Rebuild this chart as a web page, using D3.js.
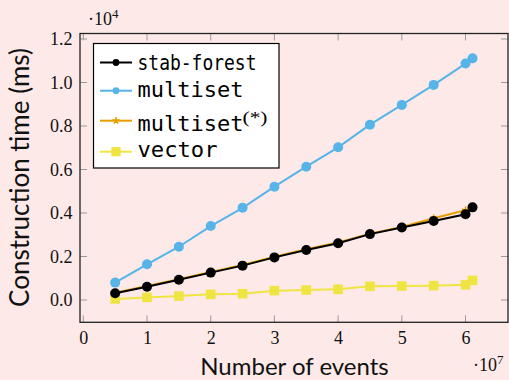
<!DOCTYPE html>
<html><head><meta charset="utf-8">
<script src="https://cdn.jsdelivr.net/npm/d3@7"></script>
<style>html,body{margin:0;padding:0;background:#fdeae8;} svg{display:block}</style>
</head><body><svg id="c" width="509" height="380"></svg>
<script>
// ---- data (x in units of 1e7 events, y in units of 1e4 ms) ----
const xValues      = [0.5, 1, 1.5, 2, 2.5, 3, 3.5, 4, 4.5, 5, 5.5, 6, 6.11];
const stabForest   = [0.031, 0.061, 0.093, 0.126, 0.158, 0.196, 0.230, 0.261, 0.303, 0.333, 0.363, 0.394, 0.426];
const multiset     = [0.080, 0.164, 0.245, 0.340, 0.424, 0.521, 0.613, 0.702, 0.806, 0.897, 0.989, 1.087, 1.111];
const multisetStar = [0.033, 0.064, 0.096, 0.129, 0.161, 0.199, 0.233, 0.265, 0.305, 0.336, 0.376, 0.413, 0.425];
const vector       = [0.005, 0.012, 0.018, 0.026, 0.029, 0.043, 0.046, 0.049, 0.063, 0.064, 0.066, 0.070, 0.090];
const xTicks = [0, 1, 2, 3, 4, 5, 6];
const yTicks = [0, 0.2, 0.4, 0.6, 0.8, 1.0, 1.2];
const legendNames = ["stab-forest", "multiset", "multiset", "vector"];
const xLabel = "Number of events";
const yLabel = "Construction time (ms)";

const svg = d3.select("#c");
const L = 80, R = 508, T = 33.5, B = 322.3;
const x = d3.scaleLinear().domain([-0.052, 6.667]).range([L, R]);
const y = d3.scaleLinear().domain([-0.1025, 1.2253]).range([B, T]);

svg.append("rect").attr("width", 509).attr("height", 380).attr("fill", "#fdeae8");

// ticks (inside, all four sides)
const tickLen = 7, tickCol = "#9a9a9a";
const g = svg.append("g");
xTicks.forEach(t => {
  g.append("line").attr("x1", x(t)).attr("x2", x(t)).attr("y1", B).attr("y2", B - tickLen).attr("stroke", tickCol).attr("stroke-width", 1);
  g.append("line").attr("x1", x(t)).attr("x2", x(t)).attr("y1", T).attr("y2", T + tickLen).attr("stroke", tickCol).attr("stroke-width", 1);
});
yTicks.forEach(t => {
  g.append("line").attr("x1", L).attr("x2", L + tickLen).attr("y1", y(t)).attr("y2", y(t)).attr("stroke", tickCol).attr("stroke-width", 1);
  g.append("line").attr("x1", R).attr("x2", R - tickLen).attr("y1", y(t)).attr("y2", y(t)).attr("stroke", tickCol).attr("stroke-width", 1);
});

// tick labels via d3 axes
const numFont = "'Liberation Serif', serif";
const numSize = 18;
const xAxis = svg.append("g").attr("transform", `translate(0,${B})`)
  .call(d3.axisBottom(x).tickValues(xTicks).tickFormat(d3.format("d")).tickSize(0).tickPadding(0));
xAxis.select(".domain").remove();
xAxis.selectAll("text").attr("y", 22).attr("dy", 0).attr("font-family", numFont).attr("font-size", numSize).attr("fill", "#111");
const yAxis = svg.append("g").attr("transform", `translate(${L},0)`)
  .call(d3.axisLeft(y).tickValues(yTicks).tickFormat(d3.format(".1f")).tickSize(0).tickPadding(0));
yAxis.select(".domain").remove();
yAxis.selectAll("text").attr("x", -7.5).attr("dy", "0.33em").attr("font-family", numFont).attr("font-size", numSize).attr("fill", "#111");

// scale multipliers
const m1 = svg.append("text").attr("x", 88).attr("y", 25).attr("font-family", numFont).attr("font-size", numSize).attr("fill", "#111");
m1.append("tspan").text("·10");
m1.append("tspan").attr("dy", -7).attr("font-size", 13).text("4");
const m2 = svg.append("text").attr("x", 473).attr("y", 371).attr("font-family", numFont).attr("font-size", numSize).attr("fill", "#111");
m2.append("tspan").text("·10");
m2.append("tspan").attr("dy", -7).attr("font-size", 13).text("7");

// axis titles
const labFont = "Lato, 'Open Sans', sans-serif";
svg.append("text").attr("x", 294.5).attr("y", 375).attr("text-anchor", "middle")
  .attr("font-family", labFont).attr("font-size", 24).attr("fill", "#111").text(xLabel);
svg.append("text").attr("transform", `translate(29,177.5) rotate(-90)`).attr("text-anchor", "middle")
  .attr("font-family", labFont).attr("font-size", 26).attr("fill", "#111").text(yLabel);

// series
const colBlack = "#000000", colBlue = "#56B4E9", colOrange = "#E69F00", colYellow = "#F0E442";
const line = d3.line().x(d => x(d[0])).y(d => y(d[1]));
function starPath(r) {
  let p = "";
  for (let i = 0; i < 5; i++) {
    const a = -Math.PI / 2 + i * 2 * Math.PI / 5;
    p += `M0,0L${(r * Math.cos(a)).toFixed(2)},${(r * Math.sin(a)).toFixed(2)}`;
  }
  return p;
}
function drawMarker(sel, type, col, size) {
  if (type === "circle") sel.append("circle").attr("r", size).attr("fill", col);
  else if (type === "square") sel.append("rect").attr("x", -size).attr("y", -size).attr("width", 2 * size).attr("height", 2 * size).attr("fill", col);
  else sel.append("path").attr("d", starPath(size)).attr("stroke", col).attr("stroke-width", 1.6).attr("fill", "none");
}
const series = [
  { vals: vector, col: colYellow, marker: "square", size: 4.8 },
  { vals: multiset, col: colBlue, marker: "circle", size: 5 },
  { vals: multisetStar, col: colOrange, marker: "star", size: 3.8 },
  { vals: stabForest, col: colBlack, marker: "circle", size: 5 },
];
const plot = svg.append("g");
series.forEach(s => {
  const pts = xValues.map((xv, i) => [xv, s.vals[i]]);
  plot.append("path").attr("d", line(pts)).attr("fill", "none").attr("stroke", s.col).attr("stroke-width", 2);
  pts.forEach(p => {
    const mg = plot.append("g").attr("transform", `translate(${x(p[0])},${y(p[1])})`);
    drawMarker(mg, s.marker, s.col, s.size);
  });
});

// frame
svg.append("rect").attr("x", L).attr("y", T).attr("width", R - L).attr("height", B - T)
  .attr("fill", "none").attr("stroke", "#222").attr("stroke-width", 1.3);

// legend
const leg = svg.append("g");
leg.append("rect").attr("x", 93.5).attr("y", 43.5).attr("width", 185.5).attr("height", 124.5)
  .attr("fill", "#fff").attr("stroke", "#000").attr("stroke-width", 1.2);
const legRows = [62.5, 90.7, 120.7, 151.7];
const legBase = [69.5, 97.3, 130.7, 157];
const legEntries = [
  { name: legendNames[0], col: colBlack, marker: "circle", size: 3.4, w: 119, sup: false },
  { name: legendNames[1], col: colBlue, marker: "circle", size: 3.4, w: 106, sup: false },
  { name: legendNames[2], col: colOrange, marker: "star", size: 3.6, w: 106, sup: true },
  { name: legendNames[3], col: colYellow, marker: "square", size: 4.6, w: 80, sup: false },
];
const monoFont = "'DejaVu Sans Mono', monospace";
legEntries.forEach((e, i) => {
  const yy = legRows[i];
  leg.append("line").attr("x1", 100).attr("x2", 132).attr("y1", yy).attr("y2", yy).attr("stroke", e.col).attr("stroke-width", 2);
  const mg = leg.append("g").attr("transform", `translate(116,${yy})`);
  drawMarker(mg, e.marker, e.col, e.size);
  leg.append("text").attr("x", 137.5).attr("y", legBase[i]).attr("font-family", monoFont).attr("font-size", 22)
    .attr("textLength", e.w).attr("lengthAdjust", "spacingAndGlyphs").attr("fill", "#000").text(e.name);
  if (e.sup) {
    leg.append("text").attr("x", 242.5).attr("y", legBase[i] - 7.5).attr("font-family", numFont).attr("font-size", 16)
      .attr("textLength", 25).attr("lengthAdjust", "spacingAndGlyphs").attr("fill", "#000").text("(*)");
  }
});
</script>
</body></html>
